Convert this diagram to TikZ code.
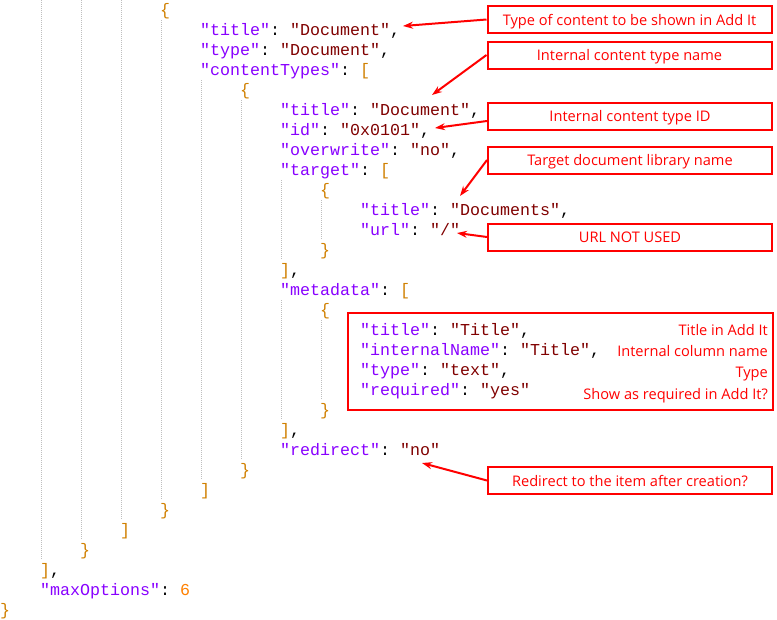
\documentclass[tikz,border=0pt]{standalone}
\usepackage{fontspec}
\setmonofont{Liberation Mono}
\newfontfamily\notefont{Open Sans}
\usetikzlibrary{arrows.meta}
\definecolor{keyc}{RGB}{136,0,255}
\definecolor{valc}{RGB}{128,0,0}
\definecolor{brc}{RGB}{208,128,0}
\definecolor{numc}{RGB}{255,128,0}
\definecolor{guidec}{RGB}{190,190,190}
\definecolor{notec}{RGB}{255,0,0}
\newcommand{\kk}[1]{{\color{keyc}"#1"}}
\newcommand{\vv}[1]{{\color{valc}"#1"}}
\newcommand{\bb}[1]{{\color{brc}#1}}
\begin{document}
\begin{tikzpicture}[x=1pt,y=-1pt,
    code/.style={anchor=base west,inner sep=0pt,font=\ttfamily\fontsize{16.66}{20}\selectfont},
    note/.style={draw=notec,line width=2pt,text=notec,minimum width=284pt,minimum height=27pt,inner sep=0pt,
        text height=14pt,text depth=2.5pt,font=\notefont\fontsize{14.6}{17}\selectfont},
    lbl/.style={anchor=base east,inner sep=0pt,text=notec,font=\notefont\fontsize{14.6}{17}\selectfont},
    arr/.style={notec,line width=2pt,-{Stealth[length=10pt,width=7pt]}},
    guide/.style={guidec,line width=1pt,dash pattern=on 1pt off 1pt}]
    \useasboundingbox (0,0) rectangle (777,619);
    \draw[guide] (41.5,0) -- (41.5,560);
    \draw[guide] (81.5,0) -- (81.5,540);
    \draw[guide] (121.5,0) -- (121.5,520);
    \draw[guide] (161.5,20) -- (161.5,500);
    \draw[guide] (201.5,80) -- (201.5,480);
    \draw[guide] (241.5,100) -- (241.5,460);
    \draw[guide] (281.5,180) -- (281.5,260);
    \draw[guide] (281.5,300) -- (281.5,420);
    \draw[guide] (321.5,200) -- (321.5,240);
    \draw[guide] (321.5,320) -- (321.5,400);
    \node[code] (l0) at (160,15) {\bb{\{}};
    \node[code] (l1) at (200,35) {\kk{title}: \vv{Document},};
    \node[code] (l2) at (200,55) {\kk{type}: \vv{Document},};
    \node[code] (l3) at (200,75) {\kk{contentTypes}: \bb{[}};
    \node[code] (l4) at (240,95) {\bb{\{}};
    \node[code] (l5) at (280,115) {\kk{title}: \vv{Document},};
    \node[code] (l6) at (280,135) {\kk{id}: \vv{0x0101},};
    \node[code] (l7) at (280,155) {\kk{overwrite}: \vv{no},};
    \node[code] (l8) at (280,175) {\kk{target}: \bb{[}};
    \node[code] (l9) at (320,195) {\bb{\{}};
    \node[code] (l10) at (360,215) {\kk{title}: \vv{Documents},};
    \node[code] (l11) at (360,235) {\kk{url}: \vv{/}};
    \node[code] (l12) at (320,255) {\bb{\}}};
    \node[code] (l13) at (280,275) {\bb{]},};
    \node[code] (l14) at (280,295) {\kk{metadata}: \bb{[}};
    \node[code] (l15) at (320,315) {\bb{\{}};
    \node[code] (l16) at (360,335) {\kk{title}: \vv{Title},};
    \node[code] (l17) at (360,355) {\kk{internalName}: \vv{Title},};
    \node[code] (l18) at (360,375) {\kk{type}: \vv{text},};
    \node[code] (l19) at (360,395) {\kk{required}: \vv{yes}};
    \node[code] (l20) at (320,415) {\bb{\}}};
    \node[code] (l21) at (280,435) {\bb{]},};
    \node[code] (l22) at (280,455) {\kk{redirect}: \vv{no}};
    \node[code] (l23) at (240,475) {\bb{\}}};
    \node[code] (l24) at (200,495) {\bb{]}};
    \node[code] (l25) at (160,515) {\bb{\}}};
    \node[code] (l26) at (120,535) {\bb{]}};
    \node[code] (l27) at (80,555) {\bb{\}}};
    \node[code] (l28) at (40,575) {\bb{]},};
    \node[code] (l29) at (40,595) {\kk{maxOptions}: {\color{numc}6}};
    \node[code] (l30) at (0,615) {\bb{\}}};
    \node[note] (typeNote) at (629.5,19.5) {Type of content to be shown in Add It};
    \node[note] (nameNote) at (629.5,55) {Internal content type name};
    \node[note] (idNote) at (630,116) {Internal content type ID};
    \node[note] (targetNote) at (630,160) {Target document library name};
    \node[note] (urlNote) at (630,237) {URL NOT USED};
    \node[note,minimum width=425pt,minimum height=97pt] (metaBox) at (560.5,361.5) {};
    \node[lbl] (titleLbl) at (768,335) {Title in Add It};
    \node[lbl] (colLbl) at (768,356) {Internal column name};
    \node[lbl] (typeLbl) at (768,377.5) {Type};
    \node[lbl] (reqLbl) at (768,399) {Show as required in Add It?};
    \node[note] (redirNote) at (630,480.5) {Redirect to the item after creation?};
    \coordinate (typeTip) at (403,26);
    \coordinate (nameTip) at (432,95);
    \coordinate (idTip) at (435,128);
    \coordinate (targetTip) at (460,196);
    \coordinate (urlTip) at (457,233);
    \coordinate (redirTip) at (422,463);
    \draw[arr] (typeNote.west) -- (typeTip);
    \draw[arr] (nameNote.west) -- (nameTip);
    \draw[arr] (idNote.182) -- (idTip);
    \draw[arr] (targetNote.west) -- (targetTip);
    \draw[arr] (urlNote.west) -- (urlTip);
    \draw[arr] (redirNote.west) -- (redirTip);
\end{tikzpicture}
\end{document}
